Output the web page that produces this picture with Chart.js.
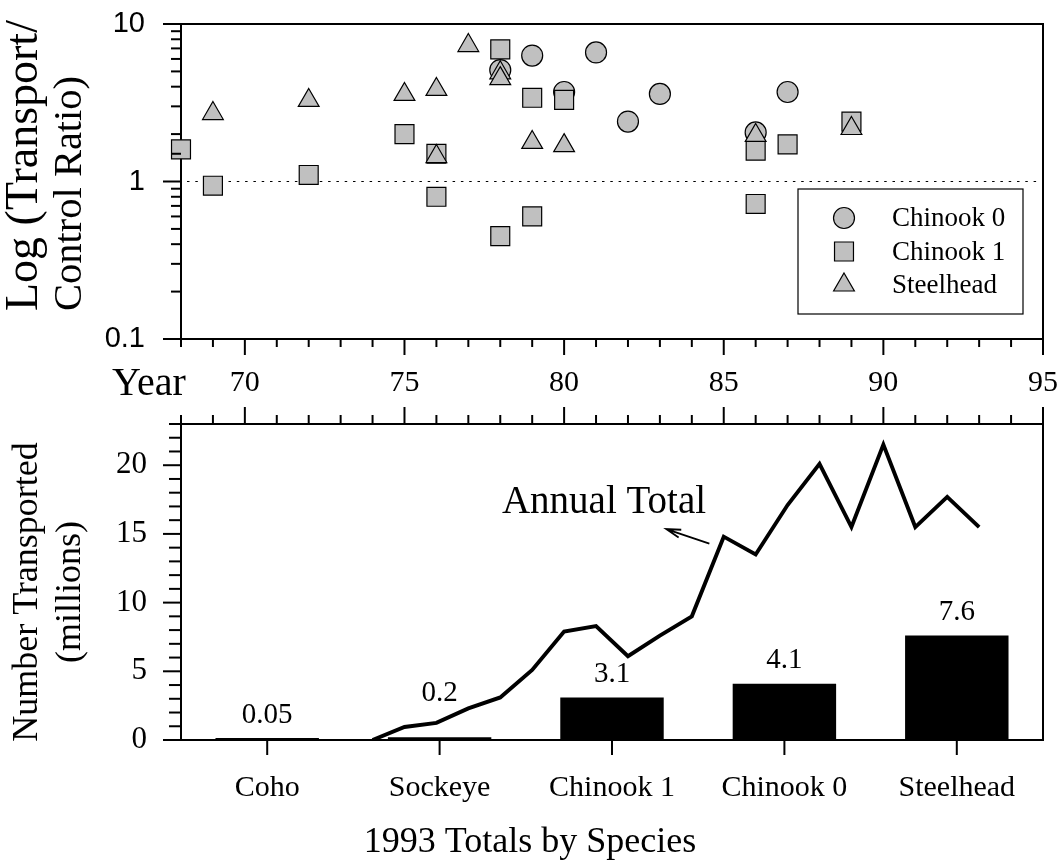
<!DOCTYPE html>
<html>
<head>
<meta charset="utf-8">
<title>Transport / control ratio and numbers transported</title>
<script src="https://cdn.jsdelivr.net/npm/chart.js@4.4.0/dist/chart.umd.min.js"></script>
<style>
  body { margin: 0; background: #fff; }
  #wrap { position: relative; width: 1061px; height: 867px; }
  #ratioChart { position: absolute; left: 0; top: 0; }
  #totalsChart { position: absolute; left: 0; top: 400px; }
</style>
</head>
<body>
<div id="wrap">
  <canvas id="ratioChart" width="1061" height="400"></canvas>
  <canvas id="totalsChart" width="1061" height="467"></canvas>
</div>
<script>
// Transport/control ratios by year (top panel)
var chinook0Years = [78, 79, 80, 81, 82, 83, 86, 87];
var chinook0Ratio = [5.1, 6.3, 3.7, 6.6, 2.4, 3.6, 2.05, 3.7];

var chinook1Years = [68, 69, 72, 75, 76, 76, 78, 78, 79, 79, 80, 86, 86, 87, 89];
var chinook1Ratio = [1.6, 0.94, 1.1, 2.0, 1.5, 0.8, 6.9, 0.45, 3.4, 0.6, 3.3, 1.57, 0.72, 1.72, 2.4];

var steelheadYears = [69, 72, 75, 76, 76, 77, 78, 78, 79, 80, 86, 89];
var steelheadRatio = [2.7, 3.27, 3.57, 3.84, 1.44, 7.3, 4.9, 4.5, 1.77, 1.69, 1.96, 2.17];

// Annual total transported, millions (bottom panel line)
var totalYears = [74, 75, 76, 77, 78, 79, 80, 81, 82, 83, 84, 85, 86, 87, 88, 89, 90, 91, 92, 93];
var annualTotal = [0, 0.95, 1.25, 2.3, 3.1, 5.1, 7.9, 8.3, 6.1, 7.6, 9.0, 14.8, 13.5, 17.1, 20.1, 15.5, 21.5, 15.5, 17.7, 15.5];

// 1993 totals by species (bottom panel bars)
var speciesLabels = ['Coho', 'Sockeye', 'Chinook 1', 'Chinook 0', 'Steelhead'];
var speciesTotals1993 = [0.05, 0.2, 3.1, 4.1, 7.6];

var serif = "'Liberation Serif', 'Times New Roman', serif";
var sans = "'Liberation Sans', Arial, sans-serif";
var markerFill = '#c0c0c0';

Chart.defaults.color = '#000';
Chart.defaults.font.family = serif;

function toPoints(xs, ys) {
    return xs.map(function (x, i) { return { x: x, y: ys[i] }; });
}

function isMajor(value, every) {
    if (every === 'decade') {
        var e = Math.log10(value);
        return Math.abs(e - Math.round(e)) < 1e-6;
    }
    var q = value / every;
    return Math.abs(q - Math.round(q)) < 1e-6;
}

// fixed axis box size, no extra padding for the labels
function fixedSize(size) {
    return function (scale) {
        if (scale.isHorizontal()) scale.height = size;
        else scale.width = size;
        scale.paddingTop = 0;
        scale.paddingBottom = 0;
        scale.paddingLeft = 0;
        scale.paddingRight = 0;
    };
}

// box round the plot area
var framePlugin = {
    id: 'frame',
    beforeDatasetsDraw: function (chart) {
        var a = chart.chartArea, ctx = chart.ctx;
        ctx.save();
        ctx.strokeStyle = '#000';
        ctx.lineWidth = 2;
        ctx.strokeRect(a.left, a.top, a.right - a.left, a.bottom - a.top);
        ctx.restore();
    }
};

// outward tick marks, long on major ticks
function tickMarkPlugin(id, axes) {
    return {
        id: id,
        afterDraw: function (chart) {
            var ctx = chart.ctx, a = chart.chartArea;
            ctx.save();
            ctx.strokeStyle = '#000';
            ctx.lineWidth = 2;
            axes.forEach(function (ax) {
                var scale = chart.scales[ax.id];
                scale.ticks.forEach(function (t, i) {
                    var p = scale.getPixelForTick(i);
                    var len = (ax.every === 'all' || isMajor(t.value, ax.every)) ? ax.major : ax.minor;
                    ctx.beginPath();
                    if (ax.edge === 'left') {
                        ctx.moveTo(a.left - len, p); ctx.lineTo(a.left, p);
                    } else if (ax.edge === 'bottom') {
                        ctx.moveTo(p, a.bottom); ctx.lineTo(p, a.bottom + len);
                    } else {
                        ctx.moveTo(p, a.top); ctx.lineTo(p, a.top - len);
                    }
                    ctx.stroke();
                });
            });
            ctx.restore();
        }
    };
}

// free text (axis titles etc.)
function textPlugin(id, items) {
    return {
        id: id,
        afterDraw: function (chart) {
            var ctx = chart.ctx;
            items.forEach(function (t) {
                ctx.save();
                ctx.font = t.font;
                ctx.fillStyle = '#000';
                ctx.textAlign = t.align || 'center';
                ctx.textBaseline = t.baseline || 'middle';
                ctx.translate(t.x, t.y);
                if (t.rotate) ctx.rotate(-Math.PI / 2);
                ctx.fillText(t.text, 0, 0);
                ctx.restore();
            });
        }
    };
}

// dotted reference line at ratio 1
var unityLine = {
    id: 'unityLine',
    beforeDatasetsDraw: function (chart) {
        var a = chart.chartArea, ctx = chart.ctx;
        var y = chart.scales.y.getPixelForValue(1);
        ctx.save();
        ctx.strokeStyle = '#000';
        ctx.lineWidth = 1.2;
        ctx.setLineDash([2.5, 5.8]);
        ctx.beginPath();
        ctx.moveTo(a.left + 6, y);
        ctx.lineTo(a.right - 4, y);
        ctx.stroke();
        ctx.restore();
    }
};

// legend drawn inside the plot
var insetLegend = {
    id: 'insetLegend',
    afterDraw: function (chart) {
        var ctx = chart.ctx;
        ctx.save();
        ctx.fillStyle = '#fff';
        ctx.fillRect(798, 189, 225, 125);
        ctx.strokeStyle = '#000';
        ctx.lineWidth = 1.2;
        ctx.strokeRect(798, 189, 225, 125);
        chart.data.datasets.forEach(function (ds, i) {
            var y = 218 + i * 33.5;
            ctx.fillStyle = ds.backgroundColor;
            ctx.strokeStyle = ds.borderColor;
            ctx.lineWidth = ds.borderWidth;
            Chart.helpers.drawPoint(ctx, {
                pointStyle: ds.pointStyle, radius: ds.pointRadius,
                borderWidth: ds.borderWidth, rotation: 0
            }, 844, y);
            ctx.fillStyle = '#000';
            ctx.font = '27px ' + serif;
            ctx.textAlign = 'left';
            ctx.textBaseline = 'middle';
            ctx.fillText(ds.label, 892, y + 1);
        });
        ctx.restore();
    }
};

new Chart(document.getElementById('ratioChart'), {
    type: 'scatter',
    data: {
        datasets: [{
            label: 'Chinook 0',
            data: toPoints(chinook0Years, chinook0Ratio),
            pointStyle: 'circle',
            pointRadius: 10.5,
            order: 3
        }, {
            label: 'Chinook 1',
            data: toPoints(chinook1Years, chinook1Ratio),
            pointStyle: 'rect',
            pointRadius: 13.4,
            order: 2
        }, {
            label: 'Steelhead',
            data: toPoints(steelheadYears, steelheadRatio),
            pointStyle: 'triangle',
            pointRadius: 12,
            order: 1
        }].map(function (ds) {
            ds.backgroundColor = markerFill;
            ds.borderColor = '#000';
            ds.borderWidth = 1.2;
            ds.pointHoverRadius = ds.pointRadius;
            ds.clip = false;
            return ds;
        })
    },
    options: {
        responsive: false,
        animation: false,
        layout: { autoPadding: false, padding: { top: 24, right: 18, bottom: 0, left: 0 } },
        plugins: { legend: { display: false }, tooltip: { enabled: false } },
        scales: {
            x: {
                type: 'linear',
                min: 68,
                max: 95,
                afterFit: fixedSize(61),
                grid: { display: false, drawTicks: false },
                border: { display: false },
                ticks: {
                    stepSize: 1,
                    autoSkip: false,
                    maxRotation: 0,
                    padding: 26,
                    font: { family: serif, size: 30 },
                    callback: function (v) { return v % 5 === 0 ? String(v) : ''; }
                }
            },
            y: {
                type: 'logarithmic',
                min: 0.1,
                max: 10,
                afterFit: fixedSize(181),
                grid: { display: false, drawTicks: false },
                border: { display: false },
                ticks: {
                    autoSkip: false,
                    padding: 36,
                    font: { family: sans, size: 29 },
                    callback: function (v) {
                        if (!isMajor(v, 'decade')) return '';
                        var e = Math.round(Math.log10(v));
                        return e < 0 ? '0.1' : String(Math.pow(10, e));
                    }
                }
            }
        }
    },
    plugins: [
        framePlugin,
        unityLine,
        tickMarkPlugin('ratioTicks', [
            { id: 'y', edge: 'left', every: 'decade', major: 18, minor: 10 },
            { id: 'x', edge: 'bottom', every: 5, major: 16, minor: 8 }
        ]),
        insetLegend,
        textPlugin('ratioText', [
            { text: 'Log (Transport/', x: 25, y: 311, rotate: true, align: 'left', font: '46px ' + serif },
            { text: 'Control Ratio)', x: 70, y: 311, rotate: true, align: 'left', font: '40.5px ' + serif },
            { text: 'Year', x: 112, y: 395, align: 'left', baseline: 'alphabetic', font: '40px ' + serif }
        ])
    ]
});

// value labels over the species bars
var barValues = {
    id: 'barValues',
    afterDatasetsDraw: function (chart) {
        var ctx = chart.ctx;
        var lift = { 1: 21 };
        var values = chart.data.datasets[1].data;
        ctx.save();
        ctx.fillStyle = '#000';
        ctx.font = '29px ' + serif;
        ctx.textAlign = 'center';
        ctx.textBaseline = 'middle';
        chart.getDatasetMeta(1).data.forEach(function (bar, i) {
            ctx.fillText(String(values[i]), bar.x, bar.y - 23 - (lift[i] || 0));
        });
        ctx.restore();
    }
};

// "Annual Total" label with arrow, placed in data units
var annualNote = {
    id: 'annualNote',
    afterDraw: function (chart) {
        var ctx = chart.ctx, xs = chart.scales.yr, ys = chart.scales.y;
        var tx = xs.getPixelForValue(84.55), ty = ys.getPixelForValue(14.3);
        var hx = xs.getPixelForValue(83.2), hy = ys.getPixelForValue(15.35);
        var ang = Math.atan2(ty - hy, tx - hx);
        ctx.save();
        ctx.strokeStyle = '#000';
        ctx.lineWidth = 1.8;
        ctx.beginPath();
        ctx.moveTo(tx, ty);
        ctx.lineTo(hx, hy);
        ctx.moveTo(hx + 15 * Math.cos(ang - 0.28), hy + 15 * Math.sin(ang - 0.28));
        ctx.lineTo(hx, hy);
        ctx.lineTo(hx + 15 * Math.cos(ang + 0.28), hy + 15 * Math.sin(ang + 0.28));
        ctx.stroke();
        ctx.fillStyle = '#000';
        ctx.font = '39px ' + serif;
        ctx.textAlign = 'center';
        ctx.textBaseline = 'alphabetic';
        ctx.fillText('Annual Total', xs.getPixelForValue(81.25), ys.getPixelForValue(16.5));
        ctx.restore();
    }
};

new Chart(document.getElementById('totalsChart'), {
    type: 'bar',
    data: {
        labels: speciesLabels,
        datasets: [{
            type: 'line',
            label: 'Annual Total',
            data: toPoints(totalYears, annualTotal),
            xAxisID: 'yr',
            yAxisID: 'y',
            borderColor: '#000',
            borderWidth: 3.9,
            borderJoinStyle: 'miter',
            pointRadius: 0,
            tension: 0,
            order: 0
        }, {
            type: 'bar',
            label: '1993',
            data: speciesTotals1993,
            xAxisID: 'x',
            yAxisID: 'y',
            backgroundColor: '#000',
            barPercentage: 0.6,
            categoryPercentage: 1,
            grouped: false,
            minBarLength: 2,
            order: 1
        }]
    },
    options: {
        responsive: false,
        animation: false,
        layout: { autoPadding: false, padding: { top: 0, right: 18, bottom: 0, left: 0 } },
        plugins: { legend: { display: false }, tooltip: { enabled: false } },
        scales: {
            x: {
                type: 'category',
                position: 'bottom',
                afterFit: fixedSize(127),
                grid: { display: false, drawTicks: false },
                border: { display: false },
                ticks: { maxRotation: 0, autoSkip: false, padding: 30, font: { family: serif, size: 30 } }
            },
            yr: {
                type: 'linear',
                position: 'top',
                min: 68,
                max: 95,
                offset: false,
                afterFit: fixedSize(24),
                grid: { display: false, drawTicks: false },
                border: { display: false },
                ticks: { display: false, stepSize: 1 }
            },
            y: {
                min: 0,
                max: 23,
                afterFit: fixedSize(181),
                grid: { display: false, drawTicks: false },
                border: { display: false },
                ticks: {
                    stepSize: 1,
                    autoSkip: false,
                    padding: 34,
                    font: { family: serif, size: 31 },
                    callback: function (v) { return v % 5 === 0 ? String(v) : ''; }
                }
            }
        }
    },
    plugins: [
        framePlugin,
        tickMarkPlugin('totalsTicks', [
            { id: 'y', edge: 'left', every: 5, major: 18, minor: 12 },
            { id: 'yr', edge: 'top', every: 5, major: 17, minor: 9 },
            { id: 'x', edge: 'bottom', every: 'all', major: 15, minor: 15 }
        ]),
        barValues,
        annualNote,
        textPlugin('totalsText', [
            { text: 'Number Transported', x: 28, y: 192, rotate: true, font: '36px ' + serif },
            { text: '(millions)', x: 71, y: 192, rotate: true, font: '36px ' + serif },
            { text: '1993 Totals by Species', x: 530, y: 443, font: '36px ' + serif }
        ])
    ]
});
</script>
</body>
</html>
